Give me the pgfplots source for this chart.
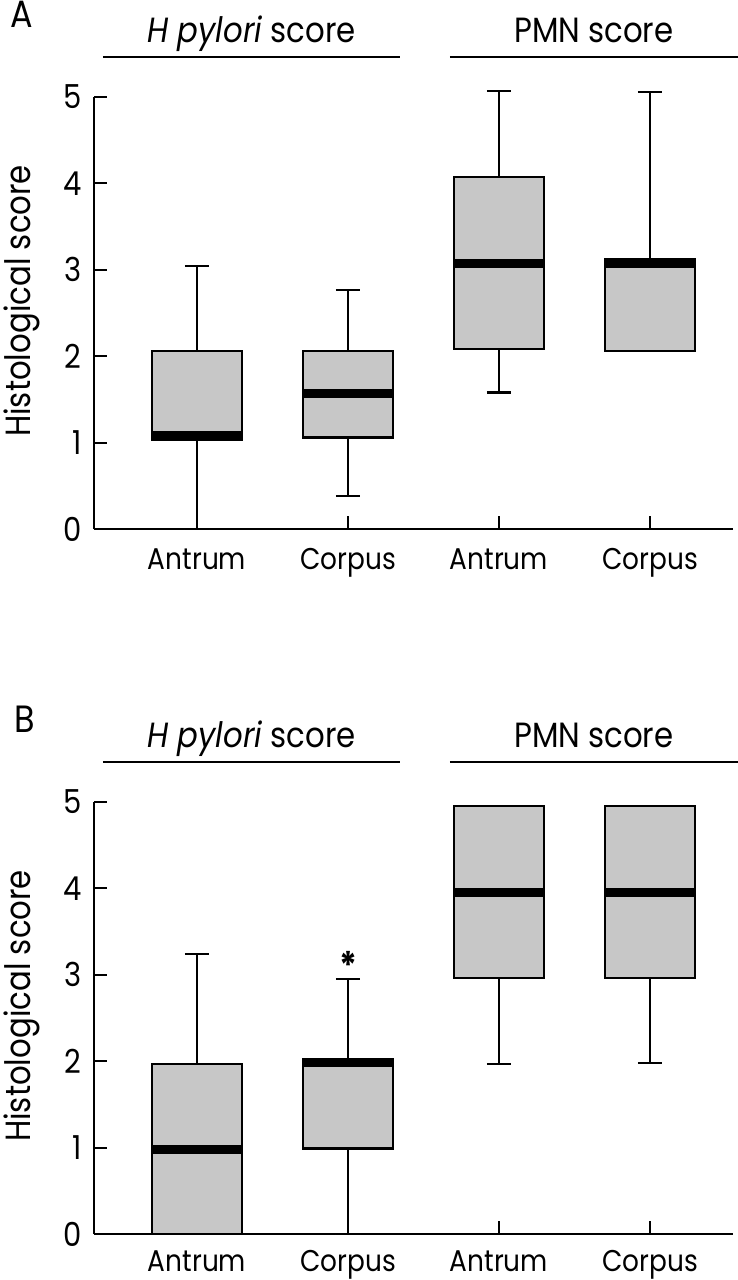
\documentclass[border=0pt]{standalone}
\usepackage{fontspec}
\setmainfont{Poppins}[FakeStretch=0.88]
\usepackage{pgfplots}
\pgfplotsset{compat=1.18}
\usepgfplotslibrary{statistics}
\definecolor{boxgray}{RGB}{199,199,199}

\pgfplotsset{
 panel/.style={
  scale only axis, width=319.5pt, height=216pt,
  xmin=0.318, xmax=4.55, ymin=0, ymax=5,
  axis x line=bottom, axis y line=left,
  axis line style={-, line width=1pt, black},
  xtick={1,2,3,4}, xticklabels={Antrum,Corpus,Antrum,Corpus},
  ytick={0,1,2,3,4,5},
  tick align=inside, major tick length=6.5pt,
  tick style={line width=1pt, black},
  /pgf/number format/assume math mode=true,
  xticklabel style={font=\fontsize{15}{18}\selectfont},
  yticklabel style={anchor=east, inner sep=0pt, xshift=-6pt, font=\fontsize{16.5}{19}\selectfont},
  ylabel={Histological score},
  ylabel style={at={(axis description cs:-0.142,0.528)}, anchor=north, inner sep=0pt, font=\fontsize{17.5}{20}\selectfont},
  clip=false,
  boxplot/draw direction=y,
  boxplot/box extend=0.6,
  boxplot/whisker extend=0.16,
  boxplot/every median/.style={black, line width=4.5pt},
 },
 bx/.style={draw=black, fill=boxgray, line width=1.1pt, solid},
}

\begin{document}
\begin{tikzpicture}
\useasboundingbox (0,0) rectangle (369pt,-640pt);
% Panel A
\node[anchor=base west, inner sep=0pt, font=\fontsize{19}{21}\selectfont] at (5pt,-13.5pt) {A};
\begin{axis}[panel, at={(47pt,-264.5pt)}, anchor=south west,
  xticklabel style={anchor=base, inner sep=0pt, yshift=-20pt}]
\addplot[bx, boxplot prepared={draw position=1, lower whisker=0, lower quartile=1.03, median=1.08, upper quartile=2.06, upper whisker=3.04}] coordinates {};
\addplot[bx, boxplot prepared={draw position=2, lower whisker=0.38, lower quartile=1.06, median=1.57, upper quartile=2.06, upper whisker=2.77}] coordinates {};
\addplot[bx, boxplot prepared={draw position=3, lower whisker=1.58, lower quartile=2.08, median=3.07, upper quartile=4.07, upper whisker=5.07}] coordinates {};
\addplot[bx, boxplot prepared={draw position=4, lower whisker=2.06, lower quartile=2.06, median=3.07, upper quartile=3.12, upper whisker=5.06}] coordinates {};
\draw[line width=1pt] (axis cs:0.377,5.462) -- (axis cs:2.344,5.462);
\draw[line width=1pt] (axis cs:2.675,5.462) -- (axis cs:4.583,5.462);
\node[anchor=base, inner sep=0pt, font=\fontsize{17.5}{20}\selectfont] at (axis cs:1.361,5.636) {\textit{H pylori} score};
\node[anchor=base, inner sep=0pt, font=\fontsize{17.5}{20}\selectfont] at (axis cs:3.629,5.636) {PMN score};
\end{axis}
% Panel B
\node[anchor=base west, inner sep=0pt, font=\fontsize{19}{21}\selectfont] at (7pt,-366pt) {B};
\begin{axis}[panel, at={(47pt,-617pt)}, anchor=south west,
  xticklabel style={anchor=base, inner sep=0pt, yshift=-18.5pt}]
\addplot[bx, boxplot prepared={draw position=1, lower whisker=0, lower quartile=0, median=0.98, upper quartile=1.97, upper whisker=3.24}] coordinates {};
\addplot[bx, boxplot prepared={draw position=2, lower whisker=0, lower quartile=0.99, median=1.98, upper quartile=2.03, upper whisker=2.95}] coordinates {};
\addplot[bx, boxplot prepared={draw position=3, lower whisker=1.97, lower quartile=2.96, median=3.95, upper quartile=4.95, upper whisker=4.95}] coordinates {};
\addplot[bx, boxplot prepared={draw position=4, lower whisker=1.98, lower quartile=2.96, median=3.95, upper quartile=4.95, upper whisker=4.95}] coordinates {};
\draw[line width=1pt] (axis cs:0.377,5.462) -- (axis cs:2.344,5.462);
\draw[line width=1pt] (axis cs:2.675,5.462) -- (axis cs:4.583,5.462);
\node[anchor=base, inner sep=0pt, font=\fontsize{17.5}{20}\selectfont] at (axis cs:1.361,5.636) {\textit{H pylori} score};
\node[anchor=base, inner sep=0pt, font=\fontsize{17.5}{20}\selectfont] at (axis cs:3.629,5.636) {PMN score};
\node[anchor=base, inner sep=0pt, font=\fontsize{19}{21}\selectfont\bfseries] at (axis cs:2,2.95) {*};
\end{axis}
\end{tikzpicture}
\end{document}
